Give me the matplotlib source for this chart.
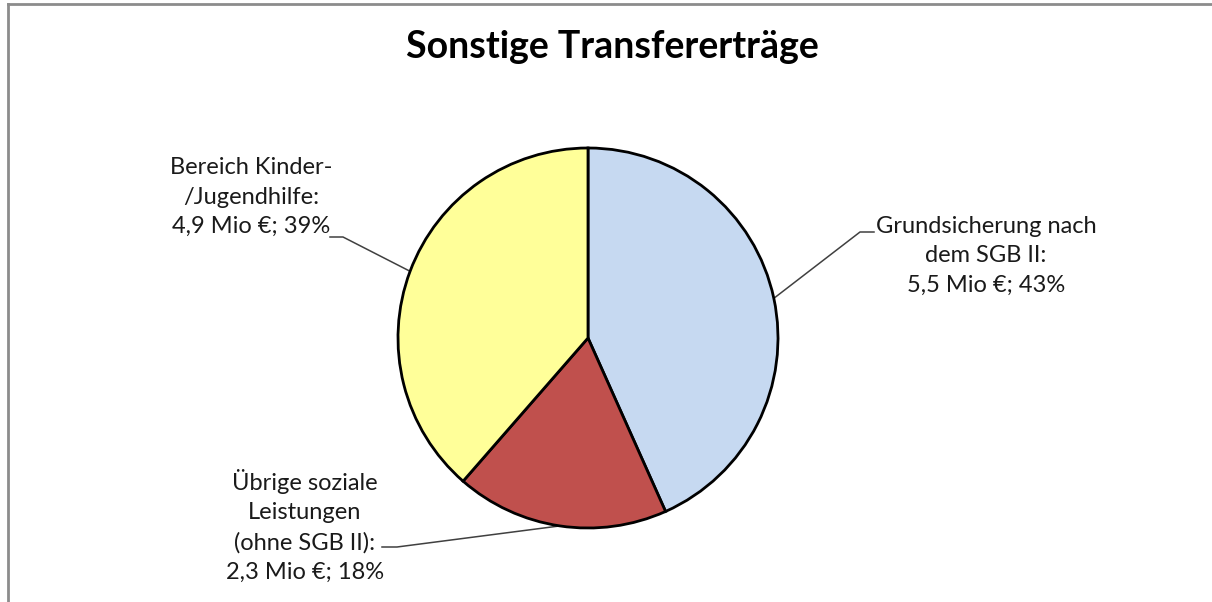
import numpy as np
import matplotlib
matplotlib.use("Agg")
import matplotlib.pyplot as plt
from matplotlib.lines import Line2D

title = "Sonstige Transfererträge"
categories = ["Grundsicherung nach\ndem SGB II:", "Übrige soziale\nLeistungen\n(ohne SGB II):", "Bereich Kinder-\n/Jugendhilfe:"]
values = [5.5, 2.3, 4.9]
percents = [43, 18, 39]
value_labels = ["5,5 Mio €; 43%", "2,3 Mio €; 18%", "4,9 Mio €; 39%"]
colors = ["#C6D9F1", "#C0504D", "#FFFF99"]

W, H = 1212, 602
fig = plt.figure(figsize=(W / 100, H / 100), dpi=100)
ax = fig.add_axes([0, 0, 1, 1])
ax.set_xlim(0, W)
ax.set_ylim(0, H)
ax.set_aspect("equal")
ax.axis("off")

cx, cy, r = 588, H - 338, 190
wedges, _ = ax.pie(values, colors=colors, startangle=90, counterclock=False,
                   center=(cx, cy), radius=r, frame=True,
                   wedgeprops=dict(edgecolor="black", linewidth=2))
ax.set_xlim(0, W)
ax.set_ylim(0, H)
ax.axis("off")

font = "Lato"
ax.text(612, H - 47, title, ha="center", va="center", fontsize=27,
        fontweight="bold", family=font, color="black")

# label positions (text block centre) and leader-line elbow points
label_pos = [(986, H - 256), (305, H - 526), (251, H - 197)]
elbows = [[(874, H - 232), (860, H - 232)],
          [(382, H - 547), (397, H - 547)],
          [(330, H - 237), (343, H - 237)]]

for w, cat, vl, pos, el in zip(wedges, categories, value_labels, label_pos, elbows):
    ang = np.deg2rad((w.theta1 + w.theta2) / 2)
    ex, ey = cx + r * np.cos(ang), cy + r * np.sin(ang)
    xs = [el[0][0], el[1][0], ex]
    ys = [el[0][1], el[1][1], ey]
    ax.add_line(Line2D(xs, ys, color="#404040", linewidth=1.1, zorder=0.5))
    ax.text(pos[0], pos[1], cat + "\n" + vl, ha="center", va="center",
            multialignment="center", fontsize=17, family=font,
            color="#1a1a1a", linespacing=1.5)

# outer chart frame (partially cropped)
fig.add_artist(Line2D([8 / W, 8 / W], [0, 1 - 4 / H], transform=fig.transFigure,
                      color="#8c8c8c", linewidth=2))
fig.add_artist(Line2D([8 / W, 1], [1 - 4 / H, 1 - 4 / H], transform=fig.transFigure,
                      color="#8c8c8c", linewidth=2))

fig.savefig("out.png", dpi=100)
